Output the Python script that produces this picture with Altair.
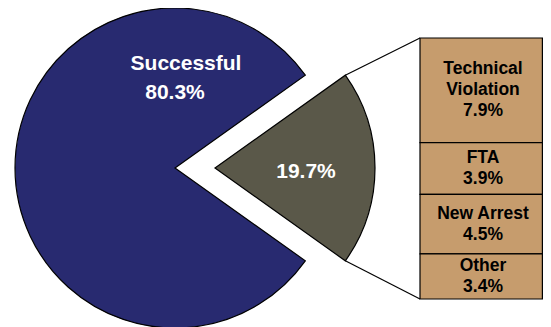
import math
import altair as alt
import pandas as pd

# ---- data ----
outcome_labels = ["Successful", "Unsuccessful"]
outcome_values = [80.3, 19.7]
detail_labels = ["Technical Violation", "FTA", "New Arrest", "Other"]
detail_values = [7.9, 3.9, 4.5, 3.4]

# ---- style / geometry ----
NAVY = "#282A70"
OLIVE = "#5A5849"
TAN = "#C69C6D"
FONT = "Liberation Sans"
OFF = 8
W, H = 535, 319
R = 160
LH = 21
pie_cx, pie_cy = 175 - OFF, 168 - OFF
slice_cx, slice_cy = 215 - OFF, 168 - OFF
bar_x0, bar_x1 = 420 - OFF, 542.4 - OFF
bar_text_x = 483 - OFF
bar_top, bar_bot = 38 - OFF, 299 - OFF

total = sum(outcome_values)
half = math.pi * outcome_values[1] / total
pie = pd.DataFrame({
    "outcome": outcome_labels,
    "value": outcome_values,
    "start": [math.pi / 2 + half, math.pi / 2 - half],
    "end": [2 * math.pi + math.pi / 2 - half, math.pi / 2 + half],
})
pie["pct"] = [f"{v:.1f}%" for v in outcome_values]

labels = [(n.replace(" ", "\n") if len(n) > 12 else n) + f"\n{v:.1f}%"
          for n, v in zip(detail_labels, detail_values)]
detail = pd.DataFrame({
    "name": detail_labels,
    "value": detail_values,
    "rank": list(range(len(detail_labels))),
    "label": labels,
    "nlines": [lab.count("\n") + 1 for lab in labels],
})

detail_total = sum(detail_values)
yscale = alt.Scale(domain=[0, detail_total], range=[bar_bot, bar_top])

succ = alt.Chart(pie).transform_filter(alt.datum.outcome == "Successful")
unsucc = alt.Chart(pie).transform_filter(alt.datum.outcome == "Unsuccessful")

navy_arc = succ.mark_arc(outerRadius=R, stroke="black", strokeWidth=1.2).encode(
    theta=alt.Theta("start:Q", scale=None),
    theta2=alt.Theta2("end:Q"),
    x=alt.value(pie_cx), y=alt.value(pie_cy),
    color=alt.value(NAVY),
)
olive_arc = unsucc.mark_arc(outerRadius=R, stroke="black", strokeWidth=1.2).encode(
    theta=alt.Theta("start:Q", scale=None),
    theta2=alt.Theta2("end:Q"),
    x=alt.value(slice_cx), y=alt.value(slice_cy),
    color=alt.value(OLIVE),
)

txt_kw = dict(font=FONT, fontWeight="bold", fontSize=21, color="white",
              align="center", baseline="middle")
succ_name = succ.mark_text(**txt_kw).encode(
    x=alt.value(186 - OFF), y=alt.value(64 - OFF), text="outcome:N")
succ_pct = succ.mark_text(**txt_kw).encode(
    x=alt.value(175 - OFF), y=alt.value(93 - OFF), text="pct:N")
unsucc_pct = unsucc.mark_text(**txt_kw).encode(
    x=alt.value(306 - OFF), y=alt.value(172 - OFF), text="pct:N")

stacked = alt.Chart(detail).transform_stack(
    stack="value", as_=["y0", "y1"], groupby=[],
    sort=[alt.SortField("rank", order="descending")],
).transform_calculate(mid="(datum.y0 + datum.y1) / 2")

bar = stacked.mark_rect(stroke="black", strokeWidth=1.2, color=TAN).encode(
    x=alt.value(bar_x0), x2=alt.value(bar_x1),
    y=alt.Y("y1:Q", scale=yscale, axis=None),
    y2="y0:Q",
)

bar_texts = []
for n in sorted(set(detail["nlines"])):
    bar_texts.append(
        stacked.transform_filter(alt.datum.nlines == n).mark_text(
            font=FONT, fontWeight="bold", fontSize=17.5, color="black",
            align="center", baseline="middle", lineBreak="\n",
            lineHeight=LH, dy=-(n - 1) * LH / 2,
        ).encode(
            x=alt.value(bar_text_x),
            y=alt.Y("mid:Q", scale=yscale, axis=None),
            text="label:N",
        )
    )

# connector lines from exploded slice corners to bar corners
cx_corner = slice_cx + R * math.cos(half)
top_corner = slice_cy - R * math.sin(half)
bot_corner = slice_cy + R * math.sin(half)
one = pd.DataFrame({"k": [0]})
rule_top = alt.Chart(one).mark_rule(color="black", strokeWidth=1.2).encode(
    x=alt.value(cx_corner), y=alt.value(top_corner),
    x2=alt.value(bar_x0), y2=alt.value(bar_top))
rule_bot = alt.Chart(one).mark_rule(color="black", strokeWidth=1.2).encode(
    x=alt.value(cx_corner), y=alt.value(bot_corner),
    x2=alt.value(bar_x0), y2=alt.value(bar_bot))

chart = alt.layer(
    navy_arc, olive_arc, rule_top, rule_bot, bar, *bar_texts,
    succ_name, succ_pct, unsucc_pct,
).properties(
    width=W, height=H, padding=0,
    autosize=alt.AutoSizeParams(type="none"),
    background="white",
).configure_view(stroke=None)

chart.save("out.html", embed_options={"renderer": "svg", "actions": False})
